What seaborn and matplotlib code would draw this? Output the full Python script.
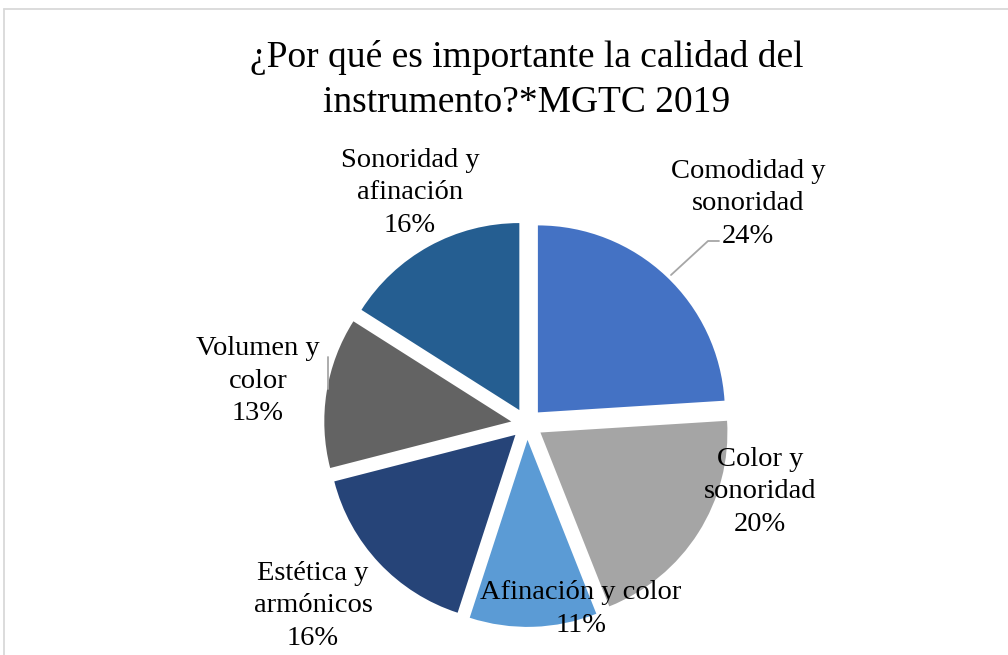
import matplotlib
matplotlib.use("Agg")
import matplotlib.pyplot as plt
import seaborn as sns
from matplotlib.lines import Line2D

sns.set_theme(style="white")
plt.rcParams['font.family'] = ['Liberation Serif', 'DejaVu Serif']

categories = ["Comodidad y\nsonoridad", "Color y\nsonoridad", "Afinación y color",
              "Estética y\narmónicos", "Volumen y\ncolor", "Sonoridad y\nafinación"]
values = [24, 20, 11, 16, 13, 16]
colors = sns.color_palette(["#4472C4", "#A5A5A5", "#5B9BD5", "#264478", "#636363", "#255E91"])
title = "¿Por qué es importante la calidad del\ninstrumento?*MGTC 2019"

W, H = 1008, 655
fig = plt.figure(figsize=(W / 100, H / 100), dpi=100)
fig.patch.set_facecolor("white")

# pie axes: center (527,424) px, radius 187 px
cx, cy, R = 527, 424, 187
L = 1.5
S = 2 * L * R
ax = fig.add_axes([(cx - S / 2) / W, 1 - (cy + S / 2) / H, S / W, S / H])

ax.pie(values, colors=colors, startangle=90, counterclock=False,
       explode=[0.085] * len(values), radius=1.0,
       wedgeprops=dict(linewidth=0))
ax.set_xlim(-L, L)
ax.set_ylim(-L, L)
ax.set_aspect("equal")
ax.axis("off")

def d(px, py):
    return (px - cx) / R, (cy - py) / R

label_px = [(748, 204), (760, 492), (581, 609), (313, 606), (258, 381), (410, 193)]
for cat, v, (px, py) in zip(categories, values, label_px):
    x, y = d(px, py)
    ax.text(x, y, f"{cat}\n{v}%", ha="center", va="center", fontsize=20.5,
            linespacing=1.4, color="#000000", clip_on=False)

# leader lines
pts = [d(671, 275), d(708, 241), d(719, 241)]
ax.plot([p[0] for p in pts], [p[1] for p in pts], color="#A6A6A6", lw=1.3, clip_on=False)
pts = [d(328, 357), d(328, 389)]
ax.plot([p[0] for p in pts], [p[1] for p in pts], color="#A6A6A6", lw=1.3, clip_on=False)

fig.text(527 / W, 1 - 80 / H, title, ha="center", va="center", fontsize=27,
         linespacing=1.36, color="#000000")

# chart border (top and left visible)
fig.add_artist(Line2D([4 / W, 1], [1 - 8.5 / H, 1 - 8.5 / H], color="#D9D9D9", lw=1.3))
fig.add_artist(Line2D([4 / W, 4 / W], [0, 1 - 8.5 / H], color="#D9D9D9", lw=1.3))

fig.savefig("out.png", dpi=100)
